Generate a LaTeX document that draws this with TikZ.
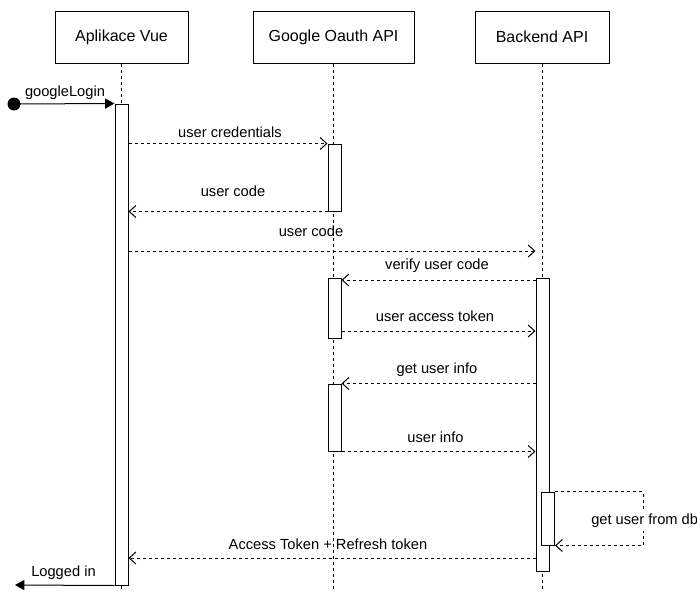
\documentclass[tikz,border=0pt]{standalone}
\usepackage{fontspec}
\setmainfont{Liberation Sans}
\usetikzlibrary{arrows.meta,calc}
\begin{document}
\begin{tikzpicture}[x=0.75pt,y=-0.75pt,
  lw/.style={line width=0.75pt},
  head/.style={draw,lw,minimum height=39pt,inner sep=0,font=\fontsize{12}{14}\selectfont},
  bar/.style={draw,lw,fill=white,minimum width=9.75pt,inner sep=0},
  dsh/.style={lw,dash pattern=on 2.25pt off 2.25pt},
  msg/.style={dsh,-{Straight Barb[length=5pt,width=9pt,line width=0.75pt]}},
  solidmsg/.style={lw,-{Triangle[length=7pt,width=7.5pt]}},
  lbl/.style={inner sep=0,font=\fontsize{11}{13}\selectfont}
]
\useasboundingbox (0,0) rectangle (697,593);
% heads
\node[head,minimum width=99.75pt] (hv) at (121.5,37) {Aplikace Vue};
\node[head,minimum width=120.75pt] (hg) at (333.5,37) {Google Oauth API};
\node[head,minimum width=100.5pt] (hb) at (542,37) {Backend API};
% lifeline ends
\coordinate (ev) at (121.5,590);
\coordinate (eg) at (333.5,590);
\coordinate (eb) at (542,590);
\draw[dsh] (hv.south) -- (ev);
\draw[dsh] (hg.south) -- (eg);
\draw[dsh] (hb.south) -- (eb);
% activation bars
\node[bar,minimum height=360.75pt] (vb) at (121.5,344.5) {};
\node[bar,minimum height=50.25pt] (g1) at (334.5,177.5) {};
\node[bar,minimum height=45pt] (g2) at (334.5,308) {};
\node[bar,minimum height=50.25pt] (g3) at (334.5,417.5) {};
\node[bar,minimum height=219.75pt] (bb) at (542.5,424.5) {};
\node[bar,minimum height=39.75pt] (sb) at (548,518.5) {};
% start / end points
\node[circle,fill,inner sep=0,minimum size=9.75pt] (start) at (14,104) {};
\coordinate (lend) at (15,585);
\coordinate (loopc) at (643,518);
% messages
\draw[solidmsg] (start.center) -- (vb.north west);
\node[lbl] (l0) at (65,93) {googleLogin};
\draw[msg] (vb.east |- g1.north) -- (g1.north west);
\node[lbl] (l1) at (230,132) {user credentials};
\draw[msg] (g1.south west) -- (vb.east |- g1.south);
\node[lbl] (l2) at (233,191) {user code};
\draw[msg] ($(vb.east |- 0,251)$) -- ($(bb.west |- 0,251)$);
\node[lbl] (l3) at (311,231) {user code};
\draw[msg] ($(bb.west |- 0,280)$) -- ($(g2.east |- 0,280)$);
\node[lbl] (l4) at (437,266) {verify user code};
\draw[msg] ($(g2.east |- 0,331)$) -- ($(bb.west |- 0,331)$);
\node[lbl] (l5) at (435,316) {user access token};
\draw[msg] (bb.west |- g3.north) -- (g3.north east);
\node[lbl] (l6) at (437,370) {get user info};
\draw[msg] (g3.south east) -- (bb.west |- g3.south);
\node[lbl] (l7) at (435.5,437) {user info};
\draw[msg] (sb.north east) -| (loopc) |- (sb.south east);
\node[lbl,anchor=west,fill=white,inner ysep=2pt] (l8) at (591,521) {get user from db};
\draw[msg] ($(bb.west |- 0,558)$) -- ($(vb.east |- 0,558)$);
\node[lbl] (l9) at (328,544) {Access Token + Refresh token};
\draw[solidmsg] (vb.south west) -- (lend);
\node[lbl] (l10) at (63.5,573) {Logged in};
\end{tikzpicture}
\end{document}
